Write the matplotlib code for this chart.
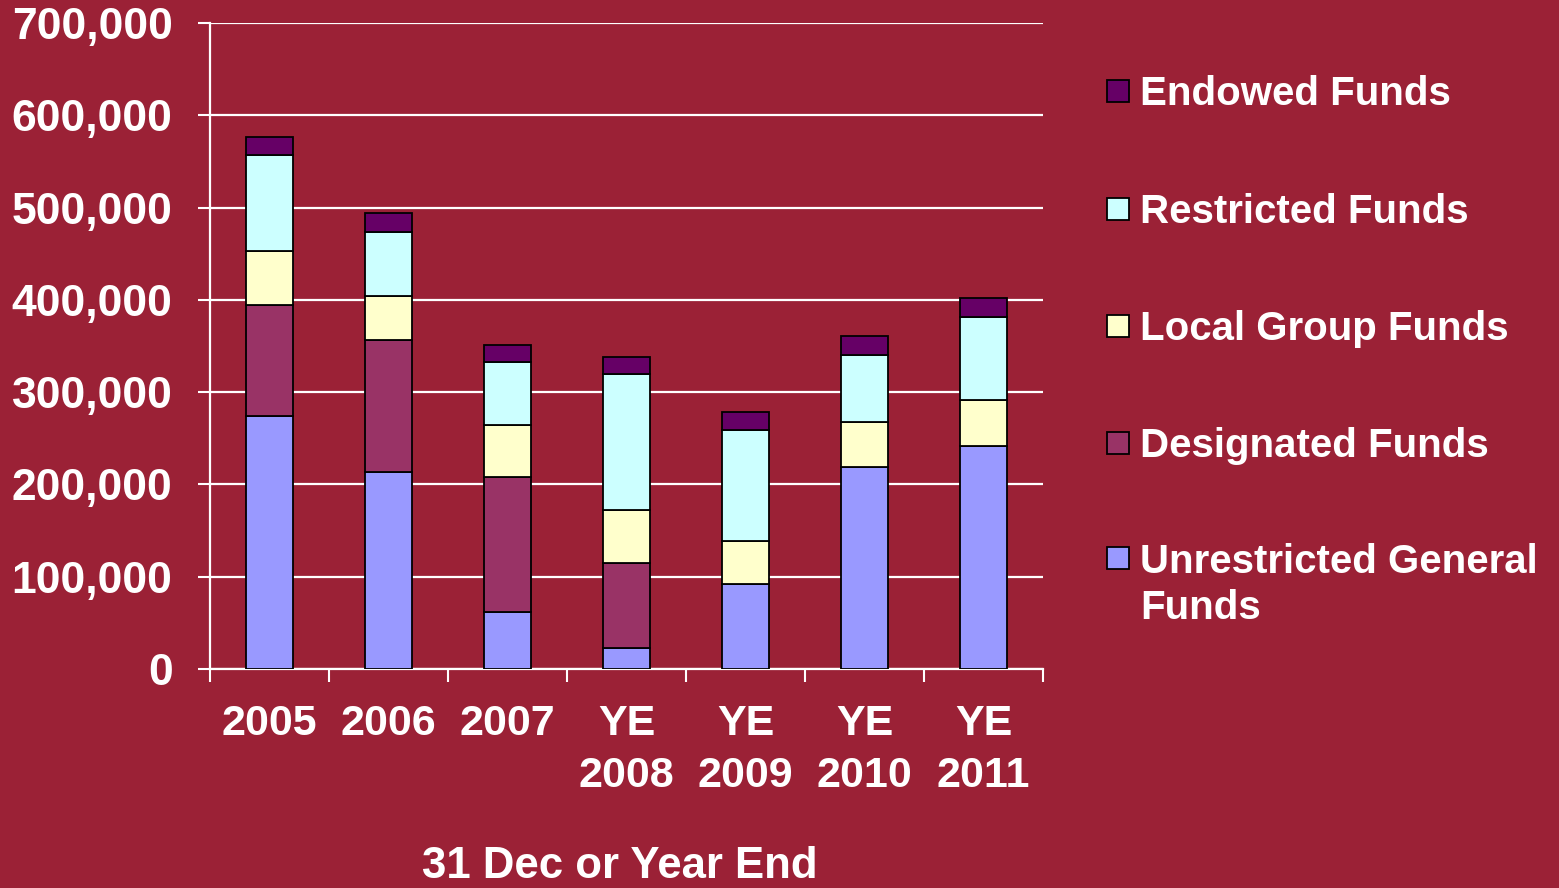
import matplotlib
matplotlib.use("Agg")
import matplotlib.pyplot as plt
from matplotlib.patches import Rectangle
import numpy as np

categories = ["2005", "2006", "2007", "YE\n2008", "YE\n2009", "YE\n2010", "YE\n2011"]
unrestricted = [274000, 213000, 62000, 23000, 92000, 219000, 242000]
designated = [120000, 143000, 146000, 92000, 0, 0, 0]
local_group = [59000, 48000, 56000, 57000, 47000, 49000, 49000]
restricted = [104000, 69000, 69000, 148000, 120000, 72000, 90000]
endowed = [20000, 21000, 18000, 18000, 19000, 21000, 21000]

series_names = ["Unrestricted General\nFunds", "Designated Funds", "Local Group Funds",
                "Restricted Funds", "Endowed Funds"]
series_vals = [unrestricted, designated, local_group, restricted, endowed]
colors = ["#9999FF", "#993366", "#FFFFCC", "#CCFFFF", "#660066"]
yticks = [0, 100000, 200000, 300000, 400000, 500000, 600000, 700000]

BG = "#9B2136"
plt.rcParams['font.family'] = ['Liberation Sans', 'DejaVu Sans']
plt.rcParams['font.weight'] = 'bold'

W, H = 1559, 888
fig = plt.figure(figsize=(W/100, H/100), dpi=100, facecolor=BG)
ax = fig.add_axes([210/W, 1-669/H, (1043-210)/W, (669-23)/H])
ax.set_facecolor(BG)

x = np.arange(len(categories))
bottom = np.zeros(len(categories))
for name, vals, c in zip(series_names, series_vals, colors):
    v = np.array(vals, dtype=float)
    ax.bar(x, v, bottom=bottom, width=0.4, color=c, edgecolor="black", linewidth=1.3,
           label=name, zorder=3)
    bottom += v

ax.set_xlim(-0.5, 6.5)
ax.set_ylim(0, 700000)
ax.set_yticks(yticks)
ax.set_yticklabels([f"{v:,}" for v in yticks])
ax.yaxis.grid(True, color="white", linewidth=1.6, zorder=0)
ax.set_axisbelow(True)

ax.set_xticks(x)
ax.set_xticklabels(categories, linespacing=1.4)
ax.set_xticks(np.arange(-0.5, 7.0, 1.0), minor=True)
ax.tick_params(axis='x', which='major', length=0, pad=25, labelsize=31, labelcolor='white')
ax.tick_params(axis='x', which='minor', length=9, width=1.5, color='white', direction='out')
ax.tick_params(axis='y', length=9, width=1.5, color='white', pad=18, labelsize=32, labelcolor='white')

for s in ["top", "right"]:
    ax.spines[s].set_visible(False)
for s in ["left", "bottom"]:
    ax.spines[s].set_color("white")
    ax.spines[s].set_linewidth(1.6)

ax.set_xlabel("31 Dec or Year End", fontsize=31.5, color="white", fontweight="bold", va="top")
ax.xaxis.set_label_coords((620-210)/(1043-210), -(846-669)/646)

# legend (manual layout to match reference spacing)
# (first-line baseline, last-line baseline, marker centre) in pixels from top
first_baselines = [105, 223, 340, 457, 573]
last_baselines = [105, 223, 340, 457, 619]
marker_centres = [91, 209, 326, 443, 558]
leg_names = series_names[::-1]
leg_colors = colors[::-1]
for name, c, lb, cy in zip(leg_names, leg_colors, last_baselines, marker_centres):
    fig.add_artist(Rectangle((1107/W, 1-(cy+11)/H), 22/W, 22/H,
                             transform=fig.transFigure, facecolor=c,
                             edgecolor="black", linewidth=1.3))
    fig.text(1140/W, 1-lb/H, name, fontsize=29, color="white", fontweight="bold",
             ha="left", va="baseline", linespacing=1.27)

fig.savefig("out.png", dpi=100, facecolor=BG)
